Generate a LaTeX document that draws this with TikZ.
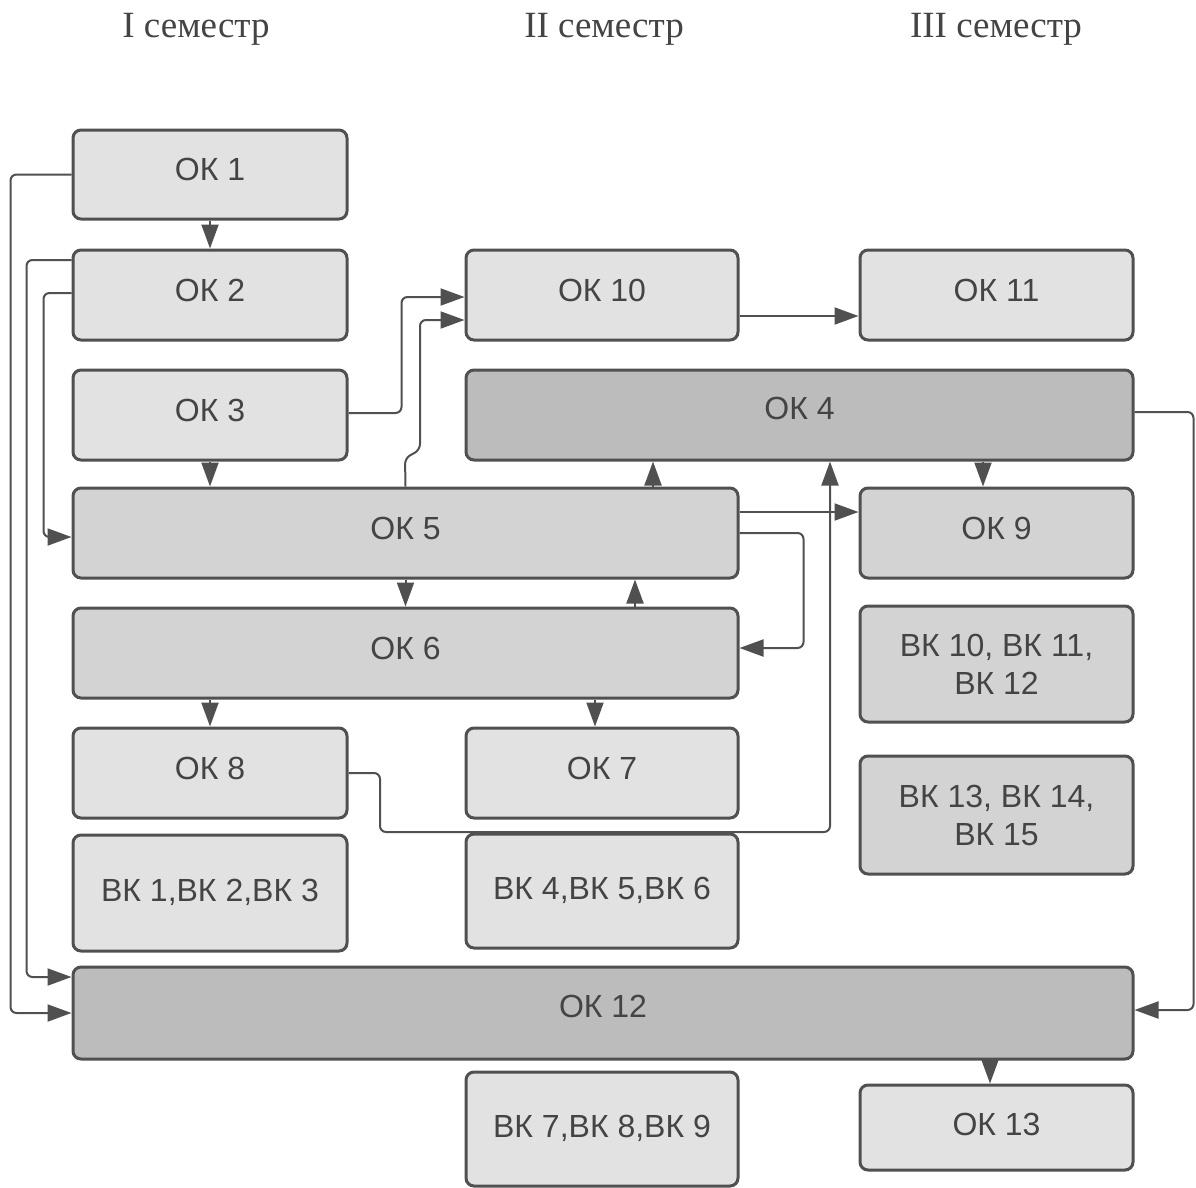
\documentclass[tikz,border=0pt]{standalone}
\usepackage{fontspec}
\setmainfont{Liberation Sans}
\newfontfamily\titlefont{Liberation Serif}
\usetikzlibrary{arrows.meta}
\definecolor{edge}{HTML}{505050}
\definecolor{txt}{HTML}{444444}
\definecolor{lightf}{HTML}{E2E2E2}
\definecolor{midf}{HTML}{D3D3D3}
\definecolor{darkf}{HTML}{BCBCBC}
\tikzset{
  box/.style={draw=edge, line width=3pt, rounded corners=8pt, text=txt,
    font=\fontsize{32}{38}\selectfont, align=center, inner sep=0pt, text depth=10pt},
  lbox/.style={box, fill=lightf},
  mbox/.style={box, fill=midf},
  dbox/.style={box, fill=darkf},
  conn/.style={draw=edge, line width=2pt, rounded corners=6pt,
    -{Triangle[length=24pt,width=17pt]}, fill=none},
  sem/.style={font=\titlefont\fontsize{37}{42}\selectfont, text=txt}
}
\begin{document}
\begin{tikzpicture}[x=1pt,y=-1pt]
\useasboundingbox (0,0) rectangle (1196,1187);
\fill[white] (0,0) rectangle (1196,1187);

\node[sem] (s1) at (196,29) {I семестр};
\node[sem] (s2) at (604,29) {II семестр};
\node[sem] (s3) at (996,29) {III семестр};

% column 1
\node[lbox, minimum width=274pt, minimum height=89pt] (ok1) at (210,174.5) {ОК 1};
\node[lbox, minimum width=274pt, minimum height=90pt] (ok2) at (210,295) {ОК 2};
\node[lbox, minimum width=274pt, minimum height=90pt] (ok3) at (210,415) {ОК 3};
\node[mbox, minimum width=665pt, minimum height=90pt] (ok5) at (405.5,533) {ОК 5};
\node[mbox, minimum width=665pt, minimum height=90pt] (ok6) at (405.5,653) {ОК 6};
\node[lbox, minimum width=274pt, minimum height=90pt] (ok8) at (210,773) {ОК 8};
\node[lbox, minimum width=274pt, minimum height=116pt, text depth=6pt] (bk1) at (210,893) {ВК 1,ВК 2,ВК 3};
\node[dbox, minimum width=1060pt, minimum height=92pt, text depth=13pt] (ok12) at (603,1013) {ОК 12};

% column 2
\node[lbox, minimum width=272pt, minimum height=90pt] (ok10) at (602,295) {ОК 10};
\node[dbox, minimum width=667pt, minimum height=90pt, text depth=13pt] (ok4) at (799.5,415) {ОК 4};
\node[lbox, minimum width=272pt, minimum height=90pt] (ok7) at (602,773) {ОК 7};
\node[lbox, minimum width=272pt, minimum height=114pt, text depth=6pt] (bk4) at (602,891) {ВК 4,ВК 5,ВК 6};
\node[lbox, minimum width=272pt, minimum height=114pt, text depth=6pt] (bk7) at (602,1129) {ВК 7,ВК 8,ВК 9};

% column 3
\node[lbox, minimum width=273pt, minimum height=90pt] (ok11) at (996.5,295) {ОК 11};
\node[mbox, minimum width=273pt, minimum height=90pt] (ok9) at (996.5,533) {ОК 9};
\node[mbox, minimum width=273pt, minimum height=116pt, text depth=0pt] (bk10) at (996.5,664) {ВК 10, ВК 11,\\ВК 12};
\node[mbox, minimum width=273pt, minimum height=118pt, text depth=0pt] (bk13) at (996.5,815) {ВК 13, ВК 14,\\ВК 15};
\node[lbox, minimum width=273pt, minimum height=85pt, text depth=6pt] (ok13) at (996.5,1127.5) {ОК 13};

% connectors
\draw[conn] (ok1.south) -- (ok2.north);
\draw[conn] (ok1.west) -| ([xshift=-61pt]ok12.west) -- (ok12.west);
\draw[conn] ([yshift=35pt]ok2.west) -| ([xshift=-45pt,yshift=36pt]ok12.west) -- ([yshift=36pt]ok12.west);
\draw[conn] ([yshift=2pt]ok2.west) -| ([xshift=-28pt,yshift=-4pt]ok5.west) -- ([yshift=-4pt]ok5.west);
\draw[conn] (ok3.south) -- (ok5.north -| ok3.south);
\draw[conn] ([yshift=2pt]ok3.east) -| ([xshift=-63pt,yshift=-2pt]ok10.west) -- ([yshift=-2pt]ok10.west);
\draw[conn] (ok5.north) -- (405,458) -- (420,450) -- (420,320) -- ([yshift=-25pt]ok10.west);
\draw[conn] ([yshift=-21pt]ok10.east) -- ([yshift=-21pt]ok11.west);
\draw[conn] (ok5.north -| 653,0) -- (ok4.south -| 653,0);
\draw[conn] (ok5.south) -- (ok6.north);
\draw[conn] (ok6.north -| 635,0) -- (ok5.south -| 635,0);
\draw[conn] ([yshift=21pt]ok5.east) -- ([yshift=21pt]ok5.east -| ok9.west);
\draw[conn] (ok5.east) -| ([xshift=64pt,yshift=5pt]ok6.east) -- ([yshift=5pt]ok6.east);
\draw[conn] (ok8.east) -| (380,832) -| (ok4.south -| 830,0);
\draw[conn] (ok4.south -| 983,0) -- (ok9.north -| 983,0);
\draw[conn] ([yshift=3pt]ok4.east) -| ([xshift=59pt,yshift=3pt]ok12.east) -- ([yshift=3pt]ok12.east);
\draw[conn] (ok6.south -| ok8.north) -- (ok8.north);
\draw[conn] (ok6.south -| 595,0) -- (ok7.north -| 595,0);
\draw[conn] (ok12.south -| 990,0) -- (ok13.north -| 990,0);
\end{tikzpicture}
\end{document}
